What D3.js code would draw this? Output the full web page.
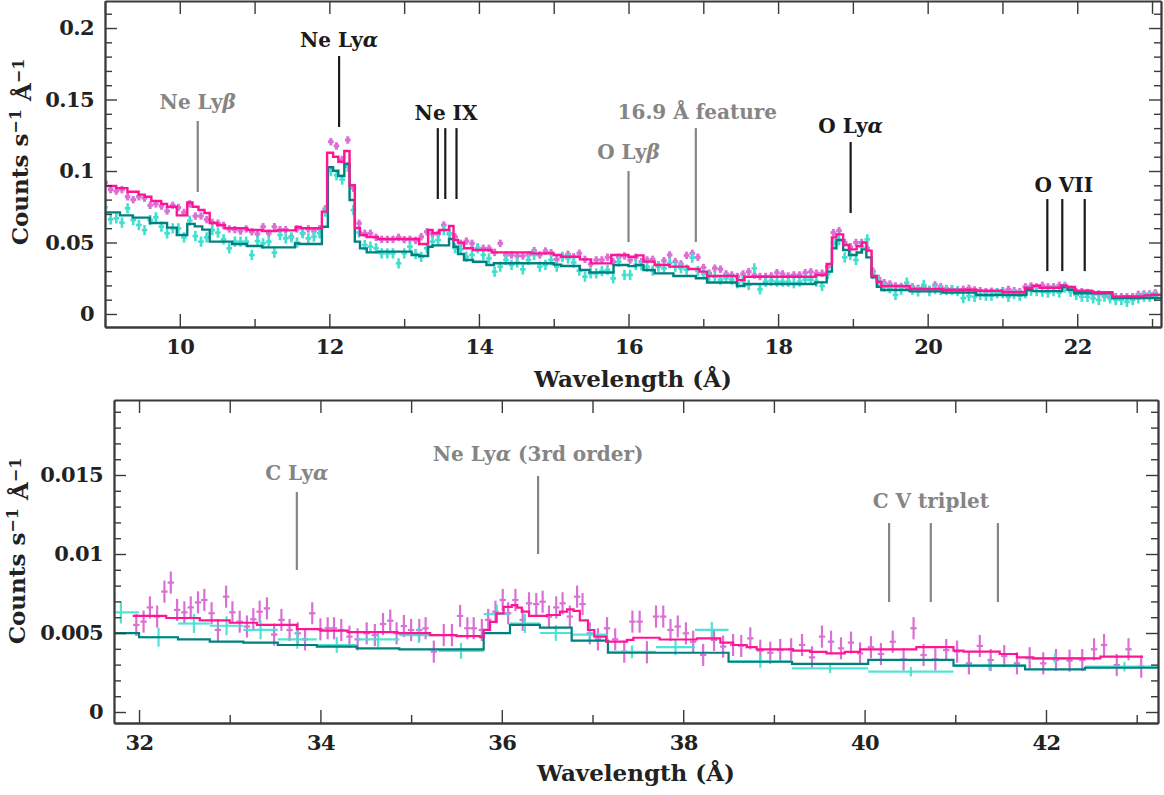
<!DOCTYPE html>
<html><head><meta charset="utf-8">
<script src="https://cdn.jsdelivr.net/npm/d3@7"></script>
<style>
body{margin:0;background:#fff}
svg{display:block}
text{font-family:"DejaVu Serif",serif;font-weight:bold;}
</style>
</head><body>
<svg id="c" width="1164" height="795"></svg>
<script>
// ---------------- DATA ----------------
// Top panel: binned spectra (regular grid)
const topStart = 9.0;
const topStep = 0.0755;
const topVioletVals = [
0.092,0.087,0.086,0.087,0.082,0.080,0.082,0.081,0.076,0.077,
0.0755,0.072,0.076,0.0745,0.071,0.077,0.0685,0.0685,0.066,0.064,
0.0635,0.062,0.0595,0.059,0.058,0.0595,0.0575,0.056,0.061,0.0565,
0.061,0.059,0.059,0.054,0.0595,0.0565,0.0595,0.058,0.0595,0.0735,
0.1205,0.1175,0.108,0.1217,0.088,0.0634,0.0564,0.0564,0.0536,0.0522,
0.0522,0.0522,0.0536,0.052,0.0522,0.0515,0.054,0.0575,0.056,0.056,
0.0622,0.056,0.054,0.0494,0.051,0.0494,0.0459,0.0459,0.0459,0.0431,
0.0494,0.0413,0.0413,0.0406,0.0406,0.0413,0.0443,0.0413,0.044,0.0429,
0.0382,0.040,0.0417,0.040,0.0424,0.0382,0.035,0.0378,0.0378,0.0397,
0.0366,0.0397,0.0406,0.0378,0.0397,0.0366,0.0378,0.0382,0.0343,0.0373,
0.0413,0.0366,0.035,0.041,0.0424,0.0397,0.0325,0.0285,0.032,0.0313,
0.028,0.0273,0.0262,0.028,0.0296,0.0273,0.0262,0.0262,0.0266,0.0289,
0.028,0.0266,0.0273,0.0273,0.0289,0.0295,0.0285,0.0285,0.033,0.0569,
0.0583,0.050,0.047,0.050,0.050,0.0459,0.030,0.0249,0.0219,0.021,
0.0196,0.0192,0.019,0.019,0.0179,0.0186,0.0172,0.0203,0.019,0.0177,
0.0172,0.0168,0.0172,0.0179,0.0168,0.0163,0.0156,0.0159,0.0156,0.0163,
0.0172,0.0163,0.0156,0.019,0.0196,0.019,0.020,0.019,0.019,0.020,
0.020,0.0172,0.0156,0.0156,0.015,0.014,0.014,0.0133,0.0121,0.0121,
0.0121,0.0121,0.0121,0.0137,0.014,0.014,0.0148];
const topTurqVals = [
0.0746,0.0662,0.0669,0.0639,0.0739,0.0657,0.0622,0.0587,0.0657,0.0676,
0.0611,0.0564,0.0599,0.0599,0.0536,0.0653,0.0545,0.0506,0.0536,0.0587,
0.0569,0.0522,0.0459,0.0506,0.0506,0.0506,0.0413,0.051,0.0494,0.0506,
0.0429,0.0552,0.0529,0.0536,0.050,0.0564,0.0529,0.0541,0.0564,0.0716,
0.100,0.097,0.094,0.103,0.0727,0.057,0.0482,0.0471,0.046,0.0424,
0.0424,0.0424,0.0354,0.0424,0.0471,0.042,0.040,0.046,0.0506,0.0517,
0.0587,0.0564,0.046,0.0452,0.040,0.0413,0.046,0.0413,0.0389,0.0296,
0.0331,0.0378,0.0343,0.036,0.0312,0.0378,0.0413,0.0331,0.0343,0.0378,
0.0331,0.040,0.0389,0.036,0.0303,0.0261,0.0284,0.0284,0.030,0.0308,
0.0249,0.0366,0.0273,0.0273,0.0343,0.034,0.0331,0.0303,0.0331,0.0319,
0.0355,0.0331,0.032,0.031,0.0394,0.030,0.028,0.0266,0.0261,0.024,
0.025,0.024,0.0215,0.023,0.0203,0.0319,0.0172,0.0226,0.0233,0.0226,
0.0226,0.0226,0.0215,0.0226,0.024,0.024,0.0226,0.0196,0.028,0.0494,
0.0517,0.0396,0.0413,0.0378,0.0471,0.0522,0.028,0.0235,0.0191,0.018,
0.0133,0.017,0.0219,0.017,0.0158,0.0203,0.016,0.0175,0.0168,0.0168,
0.0168,0.016,0.0111,0.0125,0.012,0.0133,0.0128,0.0128,0.0145,0.0145,
0.012,0.014,0.0128,0.0145,0.0163,0.016,0.0156,0.015,0.016,0.015,
0.0185,0.0156,0.0133,0.0121,0.012,0.0109,0.0098,0.0121,0.0109,0.0098,
0.0098,0.0085,0.0098,0.0109,0.0121,0.0121,0.0125];
const topVioletErr = 0.0026;
const topTurqErr = 0.0036;

// Top panel models (step starts and levels)
const topMagEdges = [9.0,9.15,9.3,9.45,9.53,9.62,9.75,9.83,9.96,10.1,10.17,10.25,10.33,10.4,10.5,10.6,10.9,11.1,11.3,11.55,11.62,11.9,11.97,12.05,12.12,12.2,12.27,12.34,12.41,12.5,12.65,13.2,13.32,13.38,13.47,13.6,13.66,13.72,13.8,13.92,14.17,14.7,15.0,15.1,15.35,15.5,15.77,16.0,16.1,16.2,16.35,16.55,16.8,16.95,17.05,17.45,17.55,18.5,18.65,18.72,18.78,18.87,18.95,19.05,19.12,19.18,19.25,19.32,19.38,19.76,20.2,20.65,21.0,21.3,21.4,21.5,21.78,21.85,21.97,22.2,22.47,22.6,22.9,23.0,23.12];
const topMagVals  = [0.0895,0.088,0.0855,0.0835,0.082,0.079,0.077,0.075,0.069,0.078,0.075,0.0727,0.0706,0.0636,0.0622,0.060,0.0587,0.058,0.0585,0.0608,0.060,0.0716,0.1128,0.110,0.1065,0.114,0.090,0.0601,0.0552,0.0538,0.0524,0.049,0.0587,0.0566,0.0587,0.0615,0.0517,0.0499,0.046,0.0448,0.0431,0.0424,0.0413,0.040,0.0382,0.0354,0.0413,0.040,0.041,0.0366,0.0343,0.0331,0.0315,0.0296,0.0266,0.0238,0.026,0.0273,0.035,0.0536,0.0557,0.0482,0.0452,0.0475,0.050,0.0443,0.0266,0.0226,0.0196,0.0175,0.017,0.0163,0.0152,0.0182,0.0198,0.0184,0.020,0.0189,0.0163,0.0152,0.0121,0.0123,0.013,0.0135,0.0135];
const topTealEdges = [9.0,9.2,9.37,9.6,9.83,9.96,10.1,10.2,10.3,10.4,10.7,10.9,11.1,11.54,11.6,11.9,11.98,12.05,12.12,12.2,12.27,12.34,12.41,12.5,12.65,13.1,13.2,13.32,13.38,13.6,13.66,13.72,13.8,13.92,14.1,14.2,15.0,15.1,15.35,15.48,15.8,16.0,16.1,16.2,16.35,16.6,16.9,17.05,17.45,17.55,18.5,18.65,18.72,18.78,18.87,18.95,19.05,19.12,19.18,19.25,19.32,19.38,19.76,20.2,20.65,21.32,21.4,21.8,21.87,21.96,22.47,23.12];
const topTealVals  = [0.0711,0.069,0.0674,0.0636,0.0604,0.0552,0.063,0.0613,0.059,0.0506,0.049,0.0476,0.0466,0.0494,0.049,0.061,0.1026,0.1002,0.0965,0.1049,0.0797,0.0506,0.0459,0.0431,0.0436,0.0413,0.0406,0.047,0.048,0.0524,0.047,0.042,0.0378,0.0365,0.0343,0.0355,0.0345,0.0336,0.0308,0.029,0.0343,0.0335,0.0343,0.0308,0.0284,0.0266,0.025,0.022,0.0196,0.021,0.0221,0.0296,0.0459,0.0517,0.0448,0.0413,0.043,0.0452,0.0396,0.0256,0.0191,0.0168,0.0158,0.015,0.0133,0.0168,0.016,0.019,0.017,0.0145,0.0112,0.0112];

// Bottom panel: violet spectrum
const botVioWave = [31.97,32.05,32.12,32.2,32.28,32.35,32.42,32.5,32.57,32.65,32.72,32.8,32.87,32.96,33.03,33.11,33.19,33.26,33.33,33.41,33.49,33.57,33.66,33.75,33.83,33.91,34.0,34.08,34.15,34.23,34.32,34.41,34.51,34.6,34.69,34.77,34.84,34.92,35.0,35.09,35.16,35.25,35.36,35.45,35.54,35.62,35.69,35.78,35.85,35.93,36.01,36.07,36.15,36.23,36.3,36.38,36.45,36.52,36.6,36.67,36.75,36.83,36.89,36.97,37.06,37.16,37.25,37.35,37.44,37.52,37.6,37.7,37.78,37.86,37.94,38.03,38.11,38.22,38.34,38.44,38.55,38.64,38.74,38.85,38.96,39.07,39.19,39.31,39.42,39.53,39.63,39.74,39.85,39.95,40.07,40.18,40.31,40.43,40.54,40.65,40.78,40.9,41.02,41.15,41.27,41.39,41.54,41.68,41.82,41.97,42.11,42.26,42.4,42.53,42.64,42.78,42.91,43.05];
const botVioVals = [0.00551,0.00572,0.00662,0.00604,0.00762,0.00819,0.00646,0.00631,0.00662,0.00694,0.00709,0.00625,0.00519,0.0073,0.00631,0.00572,0.00541,0.00587,0.00635,0.00656,0.0049,0.00583,0.00519,0.00498,0.0046,0.00625,0.00523,0.0053,0.0053,0.00519,0.00477,0.0046,0.00498,0.00487,0.00557,0.00578,0.00498,0.00544,0.00519,0.00519,0.0053,0.00382,0.00487,0.00487,0.00608,0.0053,0.0053,0.00519,0.00583,0.00635,0.00709,0.00625,0.00709,0.00583,0.00688,0.00683,0.00698,0.00604,0.00662,0.00688,0.00604,0.0073,0.00683,0.00498,0.0046,0.0053,0.0046,0.00382,0.00572,0.00572,0.00378,0.00604,0.00604,0.00519,0.00541,0.00498,0.00445,0.00361,0.00456,0.00414,0.00424,0.00418,0.00466,0.00388,0.00375,0.00392,0.00397,0.00424,0.00346,0.00477,0.00445,0.00403,0.00439,0.00371,0.0041,0.00367,0.00445,0.00333,0.0053,0.00361,0.00333,0.00392,0.00382,0.00308,0.00418,0.00329,0.00354,0.00308,0.0034,0.00308,0.00329,0.00325,0.00329,0.00397,0.00424,0.00297,0.00397,0.00287];
const botVioErr = 0.0007;
const botVioHalfBin = 0.035;

// Bottom panel: turquoise spectrum (wide bins)
const botTurqLo  = [31.6,32.0,32.43,32.78,33.15,33.53,33.96,34.4,34.87,35.3,35.8,36.09,36.42,36.77,37.17,37.7,38.13,38.5,39.2,40.04,40.98,41.77,42.43];
const botTurqHi  = [32.0,32.43,32.78,33.15,33.53,33.96,34.4,34.87,35.3,35.8,36.09,36.42,36.77,37.17,37.7,38.13,38.5,39.2,40.04,40.98,41.77,42.43,43.3];
const botTurqVals = [0.0063,0.00473,0.0056,0.00546,0.0052,0.0046,0.00424,0.0046,0.00487,0.00387,0.0062,0.0056,0.0050,0.0049,0.0038,0.0041,0.0052,0.0032,0.00276,0.00255,0.00293,0.0034,0.00287];
const botTurqErr  = [0.0007,0.0006,0.0006,0.0006,0.0006,0.0006,0.0005,0.0005,0.0005,0.0005,0.0006,0.0006,0.0005,0.0005,0.0004,0.0005,0.0005,0.0004,0.0003,0.0003,0.0003,0.0003,0.0003];

// Bottom panel models
const botMagEdges = [31.93,32.3,32.67,33.0,33.3,33.74,34.0,34.3,34.85,35.21,35.5,35.76,35.8,35.87,35.94,36.02,36.11,36.17,36.22,36.3,36.5,36.64,36.72,36.79,36.86,36.95,37.02,37.15,37.38,37.45,37.74,38.15,38.41,38.55,38.7,38.81,39.21,39.4,39.58,39.78,39.95,40.57,40.98,41.09,41.49,41.68,41.86,42.6,43.07];
const botMagVals  = [0.00608,0.00595,0.0058,0.00565,0.00551,0.00524,0.00515,0.00505,0.00499,0.00487,0.0048,0.00473,0.0052,0.0057,0.00624,0.00666,0.00677,0.0066,0.00635,0.00608,0.00614,0.00635,0.0065,0.0064,0.0058,0.00519,0.00477,0.00445,0.00456,0.0047,0.00459,0.00466,0.00439,0.00424,0.0041,0.00397,0.00388,0.0038,0.00371,0.0038,0.00397,0.0041,0.00388,0.00382,0.00367,0.00346,0.0034,0.0035,0.0035];
const botTealEdges = [31.6,32.0,32.43,32.78,33.15,33.53,33.96,34.4,34.87,35.8,36.09,36.42,36.77,37.17,38.5,39.2,40.04,40.98,41.77,42.43,43.3];
const botTealVals  = [0.00499,0.00473,0.0046,0.00445,0.00439,0.00424,0.00414,0.00403,0.00397,0.00499,0.00551,0.00534,0.00452,0.00375,0.00318,0.00304,0.0033,0.00293,0.0027,0.0028,0.0028];

// Tick values
const topXMajor = [10,12,14,16,18,20,22];
const topXMinor = [9,11,13,15,17,19,21,23];
const topYMajor = [0,0.05,0.1,0.15,0.2];
const topYMinor = [0.01,0.02,0.03,0.04,0.06,0.07,0.08,0.09,0.11,0.12,0.13,0.14,0.16,0.17,0.18,0.19,0.21];
const topYLabels = ["0","0.05","0.1","0.15","0.2"];
const botXMajor = [32,34,36,38,40,42];
const botXMinor = [33,35,37,39,41,43];
const botYMajor = [0,0.005,0.01,0.015];
const botYMinor = [0.001,0.002,0.003,0.004,0.006,0.007,0.008,0.009,0.011,0.012,0.013,0.014,0.016,0.017,0.018,0.019];
const botYLabels = ["0","0.005","0.01","0.015"];

// Line annotations
const topAnnoText  = [["Ne Ly","β",""],["Ne Ly","α",""],["Ne IX","",""],["O Ly","β",""],["16.9 Å feature","",""],["O Ly","α",""],["O VII","",""]];
const topAnnoWaves = [[10.24],[12.13],[13.45,13.55,13.70],[16.0],[16.9],[18.97],[21.6,21.8,22.1]];
const topAnnoLo    = [0.0853,0.1308,0.0804,0.0503,0.0503,0.0706,0.030];
const topAnnoHi    = [0.135,0.1804,0.130,0.100,0.130,0.1203,0.0804];
const topAnnoTextY = [0.1435,0.1865,0.1355,0.1085,0.1365,0.1268,0.085];
const topAnnoTextX = [10.24,12.13,13.56,16.0,16.92,18.97,21.82];
const topAnnoGray  = [true,false,false,true,true,false,false];
const botAnnoText  = [["C Ly","α",""],["Ne Ly","α"," (3rd order)"],["C V triplet","",""]];
const botAnnoWaves = [[33.74],[36.4],[40.27,40.73,41.47]];
const botAnnoLo    = [0.00899,0.0100,0.00696];
const botAnnoHi    = [0.01392,0.01494,0.01196];
const botAnnoTextY = [0.01468,0.01586,0.01291];
const botAnnoTextX = [33.74,36.4,40.73];
const botAnnoGray  = [true,true,true];

// ---------------- DRAW ----------------
const COL = {violet:"#da70d6", turq:"#40e0d0", mag:"#ff1493", teal:"#008080", gray:"#858585", black:"#1a1a1a", axis:"#3a3a3a"};
const svg = d3.select("#c");

function drawPanel(p) {
  const [x0, x1] = p.x.range();
  const [y1, y0] = p.y.range();
  const clipId = p.id + "-clip";
  svg.append("defs").append("clipPath").attr("id", clipId).append("rect")
    .attr("x", x0).attr("y", y0).attr("width", x1 - x0).attr("height", y1 - y0);
  const plot = svg.append("g").attr("clip-path", `url(#${clipId})`);

  p.points.forEach(s => {
    const g = plot.append("g").attr("stroke", s.color).attr("stroke-width", s.width).attr("stroke-opacity", s.opacity || 1);
    s.data.forEach(d => {
      g.append("line").attr("x1", p.x(d.lo)).attr("x2", p.x(d.hi)).attr("y1", p.y(d.v)).attr("y2", p.y(d.v));
      g.append("line").attr("x1", p.x(d.w)).attr("x2", p.x(d.w)).attr("y1", p.y(d.v - d.e)).attr("y2", p.y(d.v + d.e));
    });
  });

  const line = d3.line().x(d => p.x(d[0])).y(d => p.y(d[1])).curve(d3.curveStepAfter);
  p.models.forEach(m => {
    const pts = m.edges.map((e, i) => [e, m.vals[i]]);
    plot.append("path").attr("d", line(pts)).attr("fill", "none")
      .attr("stroke", m.color).attr("stroke-width", m.width).attr("stroke-linejoin", "miter");
  });

  p.anno.forEach(a => {
    const col = a.gray ? COL.gray : COL.black;
    a.waves.forEach(w => {
      svg.append("line").attr("x1", p.x(w)).attr("x2", p.x(w))
        .attr("y1", p.y(a.lo)).attr("y2", p.y(a.hi))
        .attr("stroke", col).attr("stroke-width", 2.2);
    });
    const t = svg.append("text").attr("x", p.x(a.tx)).attr("y", p.y(a.ty))
      .attr("text-anchor", "middle").attr("fill", col).style("font-size", "20px");
    t.append("tspan").text(a.text[0]);
    if (a.text[1]) t.append("tspan").style("font-style", "italic").text(a.text[1]);
    if (a.text[2]) t.append("tspan").text(a.text[2]);
  });

  const styleAxis = g => {
    g.select(".domain").attr("stroke", COL.axis).attr("stroke-width", 1.8);
    g.selectAll(".tick line").attr("stroke", COL.axis).attr("stroke-width", 1.4);
    g.selectAll("text").attr("fill", "#222").style("font-size", "21px").style("letter-spacing", "-0.6px")
      .style("font-family", "'DejaVu Serif',serif").style("font-weight", "bold");
  };
  svg.append("g").attr("transform", `translate(0,${y1})`)
    .call(d3.axisBottom(p.x).tickValues(p.xMajor).tickSize(-13).tickSizeOuter(0).tickPadding(12).tickFormat(d3.format("d"))).call(styleAxis);
  svg.append("g").attr("transform", `translate(0,${y1})`)
    .call(d3.axisBottom(p.x).tickValues(p.xMinor).tickSize(-8).tickSizeOuter(0).tickFormat("")).call(styleAxis);
  svg.append("g").attr("transform", `translate(0,${y0})`)
    .call(d3.axisTop(p.x).tickValues(p.xMajor.concat(p.xMinor)).tickSize(-13).tickSizeOuter(0).tickFormat("")).call(styleAxis);
  svg.append("g").attr("transform", `translate(${x0},0)`)
    .call(d3.axisLeft(p.y).tickValues(p.yMajor).tickSize(-12).tickSizeOuter(0).tickPadding(11).tickFormat((d, i) => p.yLabels[i])).call(styleAxis);
  svg.append("g").attr("transform", `translate(${x0},0)`)
    .call(d3.axisLeft(p.y).tickValues(p.yMinor).tickSize(-7).tickSizeOuter(0).tickFormat("")).call(styleAxis);
  svg.append("g").attr("transform", `translate(${x1},0)`)
    .call(d3.axisRight(p.y).tickValues(p.yMajor).tickSize(-12).tickSizeOuter(0).tickFormat("")).call(styleAxis);
  svg.append("g").attr("transform", `translate(${x1},0)`)
    .call(d3.axisRight(p.y).tickValues(p.yMinor).tickSize(-7).tickSizeOuter(0).tickFormat("")).call(styleAxis);

  svg.append("text").attr("x", (x0 + x1) / 2).attr("y", y1 + p.xlabOff).attr("text-anchor", "middle")
    .attr("fill", "#222").style("font-size", "23px").text("Wavelength (Å)");
  const yl = svg.append("text").attr("transform", `translate(${p.ylabX},${p.ylabY}) rotate(-90)`)
    .attr("text-anchor", "middle").attr("fill", "#222").style("font-size", "23px");
  yl.append("tspan").text("Counts s");
  yl.append("tspan").attr("dy", "-0.45em").style("font-size", "16px").text("−1");
  yl.append("tspan").attr("dy", "0.45em").text(" Å");
  yl.append("tspan").attr("dy", "-0.45em").style("font-size", "16px").text("−1");
}

const topX = d3.scaleLinear().domain([9.0, 23.12]).range([105, 1161]);
const topY = d3.scaleLinear().domain([-0.0091, 0.2189]).range([327, 1]);
const mkTop = (vals, err) => vals.map((v, i) => {
  const w = topStart + i * topStep;
  return {w: w, lo: w - topStep / 2, hi: w + topStep / 2, v: v, e: err};
});
drawPanel({
  id: "top", x: topX, y: topY,
  xMajor: topXMajor, xMinor: topXMinor, yMajor: topYMajor, yMinor: topYMinor, yLabels: topYLabels,
  points: [
    {color: COL.violet, width: 3, data: mkTop(topVioletVals, topVioletErr)},
    {color: COL.turq, width: 2.6, data: mkTop(topTurqVals, topTurqErr)}
  ],
  models: [
    {edges: topTealEdges, vals: topTealVals, color: COL.teal, width: 2.4},
    {edges: topMagEdges, vals: topMagVals, color: COL.mag, width: 2.4}
  ],
  anno: topAnnoText.map((t, i) => ({text: t, waves: topAnnoWaves[i], lo: topAnnoLo[i], hi: topAnnoHi[i], ty: topAnnoTextY[i], tx: topAnnoTextX[i], gray: topAnnoGray[i]})),
  ylabX: 28, ylabY: 152, xlabOff: 60
});

const botX = d3.scaleLinear().domain([31.724, 43.235]).range([114, 1158]);
const botY = d3.scaleLinear().domain([-0.000696, 0.019747]).range([723, 400]);
drawPanel({
  id: "bot", x: botX, y: botY,
  xMajor: botXMajor, xMinor: botXMinor, yMajor: botYMajor, yMinor: botYMinor, yLabels: botYLabels,
  points: [
    {color: COL.violet, width: 2.2, data: botVioWave.map((w, i) => ({w: w, lo: w - botVioHalfBin, hi: w + botVioHalfBin, v: botVioVals[i], e: botVioErr}))},
    {color: COL.turq, width: 2.2, opacity: 0.9, data: botTurqVals.map((v, i) => ({w: (botTurqLo[i] + botTurqHi[i]) / 2, lo: botTurqLo[i], hi: botTurqHi[i], v: v, e: botTurqErr[i]}))}
  ],
  models: [
    {edges: botTealEdges, vals: botTealVals, color: COL.teal, width: 2.2},
    {edges: botMagEdges, vals: botMagVals, color: COL.mag, width: 2.2}
  ],
  anno: botAnnoText.map((t, i) => ({text: t, waves: botAnnoWaves[i], lo: botAnnoLo[i], hi: botAnnoHi[i], ty: botAnnoTextY[i], tx: botAnnoTextX[i], gray: botAnnoGray[i]})),
  ylabX: 25, ylabY: 551, xlabOff: 58
});
</script>
</body></html>
